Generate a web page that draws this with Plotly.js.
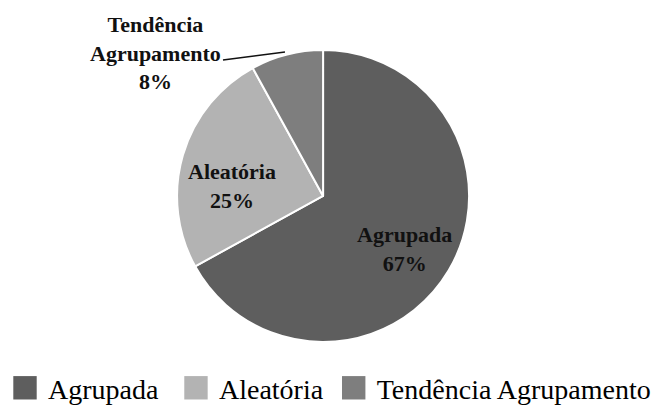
<!DOCTYPE html>
<html>
<head>
<meta charset="utf-8">
<script src="https://cdn.plot.ly/plotly-3.0.1.min.js"></script>
<style>html,body{margin:0;padding:0;background:#fff;}#chart{width:658px;height:409px;}</style>
</head>
<body>
<div id="chart"></div>
<script>
const categories = ["Agrupada", "Aleatória", "Tendência Agrupamento"];
const values = [67, 25, 8];
const sliceColors = ["#5e5e5e", "#b3b3b3", "#7e7e7e"];
const labelLines = ["Agrupada", "Aleatória", "Tendência<br>Agrupamento"];
// label anchor positions in pixels (x, y from top)
const labelPos = [[404, 249], [232, 186], [155, 53]];

const serif = "Liberation Serif, Times New Roman, serif";
const W = 658, H = 409;

const trace = {
  type: "pie",
  labels: categories,
  values: values,
  sort: false,
  direction: "clockwise",
  rotation: 0,
  marker: {colors: sliceColors, line: {color: "#ffffff", width: 2}},
  textinfo: "none",
  hoverinfo: "none",
  domain: {x: [0.269, 0.713], y: [0.1638, 0.8778]}
};

const annotations = categories.map((c, i) => ({
  xref: "paper", yref: "paper",
  x: labelPos[i][0] / W, y: 1 - labelPos[i][1] / H,
  xanchor: "center", yanchor: "middle",
  text: labelLines[i] + "<br>" + values[i] + "%",
  showarrow: false, align: "center",
  font: {family: serif, size: 22, color: "#111111", weight: "bold"}
}));

const layout = {
  width: W, height: H,
  margin: {l: 0, r: 0, t: 0, b: 0, autoexpand: false},
  paper_bgcolor: "#ffffff",
  showlegend: true,
  legend: {
    orientation: "h", x: 8 / W, xanchor: "left", y: -0.01, yanchor: "bottom",
    font: {family: serif, size: 28, color: "#000000"},
    itemclick: false, itemdoubleclick: false
  },
  annotations: annotations,
  shapes: [{
    type: "line", xref: "paper", yref: "paper",
    x0: 223 / W, y0: 1 - 60 / H, x1: 285 / W, y1: 1 - 52 / H,
    line: {color: "#111111", width: 1.5}
  }]
};

Plotly.newPlot("chart", [trace], layout, {displayModeBar: false, staticPlot: true}).then(() => {
  document.querySelectorAll("#chart .legendpoints path").forEach(p => {
    p.setAttribute("transform", "translate(17,0) scale(1.95)");
    p.style.strokeWidth = "0";
  });
  const extraShift = [0, 15, 23];
  document.querySelectorAll("#chart .legend .traces").forEach((g, i) => {
    const t = g.getAttribute("transform") || "";
    const m = t.match(/translate\(\s*([-\d.]+)[ ,]+([-\d.]+)\s*\)/);
    if (m) {
      g.setAttribute("transform", "translate(" + (parseFloat(m[1]) + (extraShift[i] || 0)) + "," + m[2] + ")");
    }
  });
  document.querySelectorAll("#chart .legend [clip-path]").forEach(e => e.removeAttribute("clip-path"));
});
</script>
</body>
</html>
